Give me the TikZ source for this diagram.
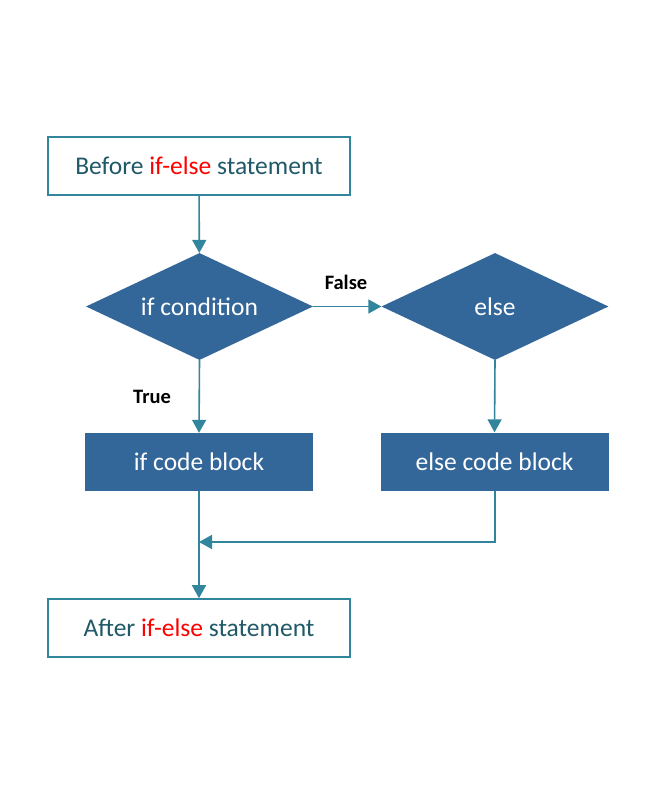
\documentclass[tikz,border=0pt]{standalone}
\usepackage{fontspec}
\setmainfont{Carlito}
\usetikzlibrary{arrows.meta,shapes.geometric}
\definecolor{boxfill}{RGB}{52,103,153}
\definecolor{linkteal}{RGB}{49,133,156}
\definecolor{labeltext}{RGB}{33,89,104}
\definecolor{keyred}{RGB}{255,0,0}
\tikzset{
  outlinebox/.style={draw=linkteal, line width=1.6pt, fill=white, minimum width=302pt, minimum height=58pt, inner sep=0pt, text=labeltext, font=\fontsize{25.5}{28}\selectfont},
  decision/.style={diamond, fill=boxfill, aspect=2.12, minimum width=227pt, minimum height=107pt, inner sep=0pt, text=white, font=\fontsize{25.5}{28}\selectfont},
  codebox/.style={fill=boxfill, minimum width=228pt, minimum height=58pt, inner sep=0pt, text=white, font=\fontsize{25.5}{28}\selectfont},
  link/.style={draw=linkteal, line width=1.6pt, -{Triangle[length=13pt,width=14pt]}},
  branchlabel/.style={font=\bfseries\fontsize{20.5}{23}\selectfont, text=black}
}
\begin{document}
\begin{tikzpicture}[x=1pt,y=-1pt]
\useasboundingbox (0,0) rectangle (666,800);
\fill[white] (0,0) rectangle (666,800);

\node[outlinebox] (before) at (199,166) {Before \textcolor{keyred}{if-else} statement};
\node[decision] (cond) at (199.5,306.5) {if condition};
\node[decision] (els) at (495,306.5) {else};
\node[codebox] (ifblk) at (199,462) {if code block};
\node[codebox] (elseblk) at (494.5,461.5) {else code block};
\node[outlinebox] (after) at (199,628) {After \textcolor{keyred}{if-else} statement};

\coordinate (join) at (199,542);
\coordinate (bend) at (495,542);

\draw[link] (before) -- (cond);
\draw[link] (cond.east) -- (els.west);
\draw[link] (cond.south) -- (ifblk.north);
\draw[link] (els.south) -- (elseblk.north);
\draw[link] (ifblk.south) -- (after.north);
\draw[link] (elseblk.south -| bend) -- (bend) -- (join);

\node[branchlabel] (falselbl) at (346,282) {False};
\node[branchlabel] (truelbl) at (152,397) {True};
\end{tikzpicture}
\end{document}
